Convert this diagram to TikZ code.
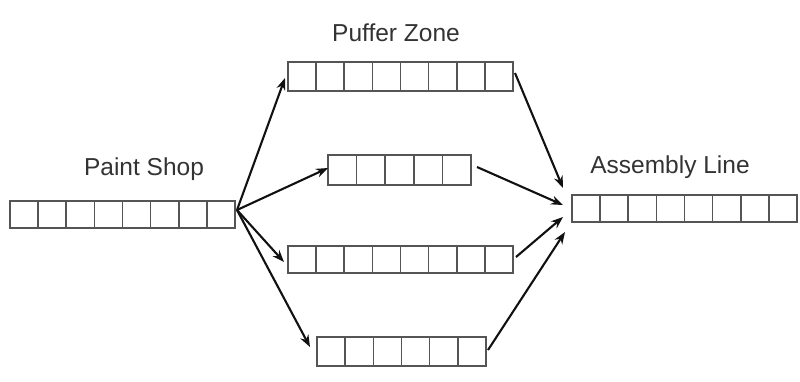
\documentclass[tikz,border=0pt]{standalone}
\usepackage{fontspec}
\setmainfont{Liberation Sans}
\usetikzlibrary{arrows.meta,calc}
\definecolor{boxline}{HTML}{555555}
\definecolor{txt}{HTML}{333333}
\definecolor{arrowc}{HTML}{111111}
\tikzset{
  bar/.style={draw=boxline, line width=1.6pt, minimum height=28pt, inner sep=0pt, outer sep=0pt},
  cellline/.style={draw=boxline, line width=1.6pt},
  flow/.style={draw=arrowc, line width=2.1pt, -{Stealth[length=12pt,width=9pt]}},
  lbl/.style={anchor=base, text=txt, font=\fontsize{24.5}{28}\selectfont, inner sep=0pt}
}
\begin{document}
\begin{tikzpicture}[x=1pt,y=-1pt]
\useasboundingbox (0,0) rectangle (800,381);
% bars
\node[bar, minimum width=225pt, minimum height=27pt] (ps) at (122.5,214.5) {};
\node[bar, minimum width=225pt, minimum height=29pt] (b1) at (400.5,76.5) {};
\node[bar, minimum width=143pt, minimum height=30pt] (b2) at (399.5,170) {};
\node[bar, minimum width=225pt, minimum height=27pt] (b3) at (400.5,259.5) {};
\node[bar, minimum width=169pt, minimum height=29pt] (b4) at (401.5,351.5) {};
\node[bar, minimum width=225pt, minimum height=27pt] (al) at (684.5,208.5) {};
% cell dividers
\foreach \n/\cnt in {ps/8,b1/8,b2/5,b3/8,b4/6,al/8}{
  \pgfmathtruncatemacro{\m}{\cnt-1}
  \foreach \k in {1,...,\m}{
    \draw[cellline] ($(\n.north west)!\k/\cnt!(\n.north east)$) -- ($(\n.south west)!\k/\cnt!(\n.south east)$);
  }
}
% labels
\node[lbl] (lps) at (144,175) {Paint Shop};
\node[lbl] (lpz) at (396,41) {Puffer Zone};
\node[lbl] (lal) at (670,173) {Assembly Line};
% connector points
\coordinate (fan) at (237,210);
\coordinate (i1) at (285,78);
\coordinate (i2) at (328,168);
\coordinate (i3) at (284,262);
\coordinate (i4) at (310,347);
\coordinate (o1) at (515,73);
\coordinate (o2) at (477,167);
\coordinate (o3) at (516,257);
\coordinate (o4) at (488,350);
\coordinate (e1) at (563,188);
\coordinate (e2) at (563,205);
\coordinate (e3) at (563,217);
\coordinate (e4) at (565,232);
% arrows
\draw[flow] (fan) -- (i1);
\draw[flow] (fan) -- (i2);
\draw[flow] (fan) -- (i3);
\draw[flow] (fan) -- (i4);
\draw[flow] (o1) -- (e1);
\draw[flow] (o2) -- (e2);
\draw[flow] (o3) -- (e3);
\draw[flow] (o4) -- (e4);
\end{tikzpicture}
\end{document}
